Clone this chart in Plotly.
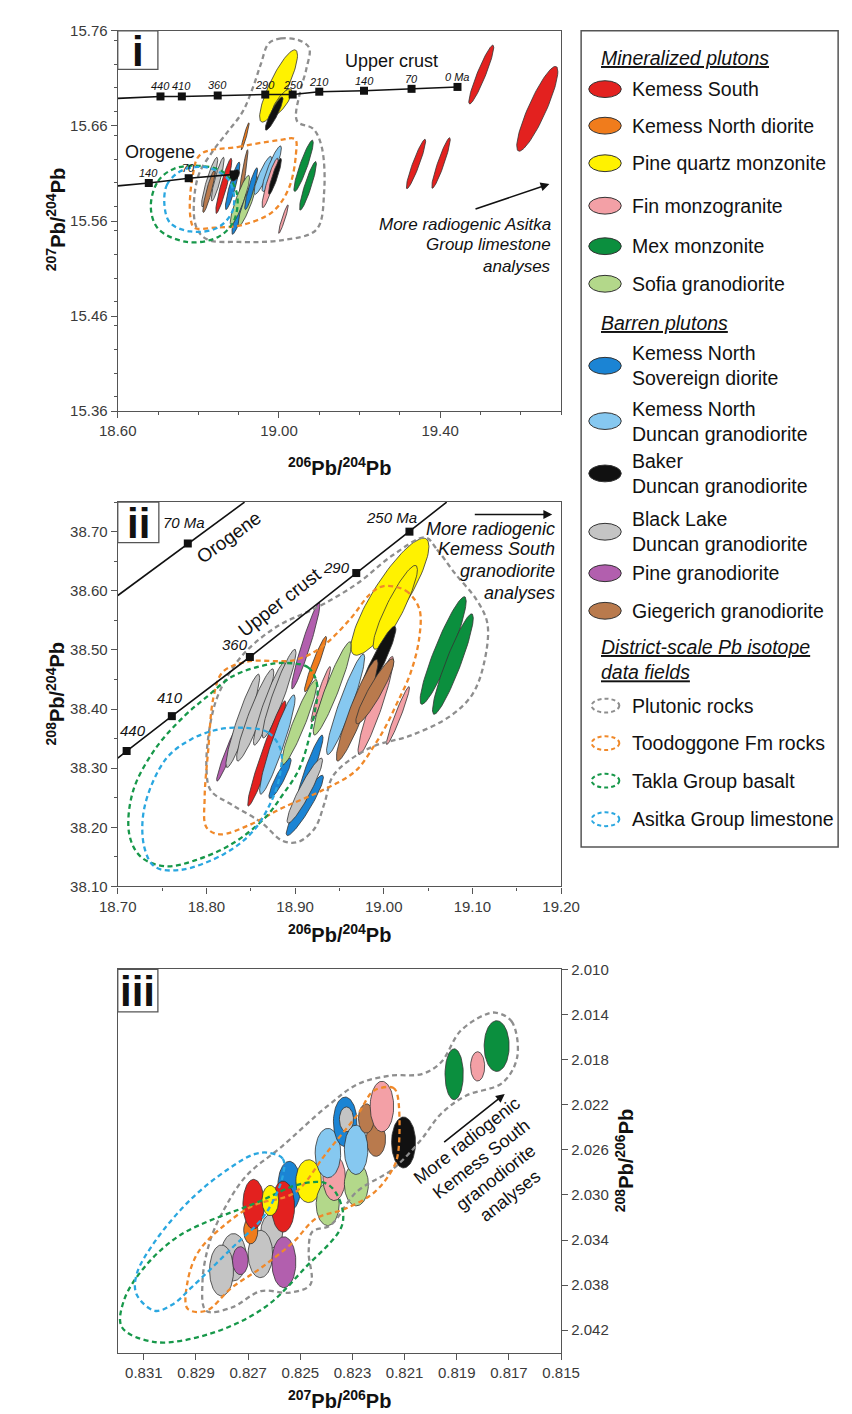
import numpy as np
import plotly.graph_objects as go

W, H = 852, 1414
FONT = "Liberation Sans, Arial, Helvetica, sans-serif"

# ---------------- legend groups & colours ----------------
COLORS = {
    "KS": "#e3211f", "KND": "#f07c1c", "PQM": "#fff200", "FIN": "#f3a0a6",
    "MEX": "#0b8f3e", "SOF": "#b3d88a", "KNS": "#1b84d4", "KNDG": "#86c8f0",
    "BAK": "#111111", "BLK": "#c4c4c4", "PGD": "#b25fae", "GIE": "#b97a4d",
}
FIELD_COLORS = {"PLUT": "#8e8e8e", "TOOD": "#f0892a", "TAKLA": "#17984a", "ASIT": "#2aa7e0"}

# ---------------- panel i : 207Pb/204Pb vs 206Pb/204Pb ----------------
I_GRP = ["PQM", "PQM", "BAK", "KND", "MEX", "MEX", "FIN", "KS", "KS", "KS", "KS", "BLK", "GIE",
         "BLK", "KS", "KNS", "BAK", "GIE", "KNS", "SOF", "SOF", "KNS", "KNDG", "KNDG", "FIN", "BAK"]
I_CX = [18.999, 19.007, 18.988, 18.916, 19.061, 19.072, 19.011, 19.502, 19.641, 19.340, 19.402, 18.828, 18.826,
        18.848, 18.863, 18.885, 18.891, 18.911, 18.901, 18.903, 18.923, 18.931, 18.960, 18.982, 18.978, 18.990]
I_CY = [15.702, 15.685, 15.673, 15.649, 15.618, 15.597, 15.562, 15.714, 15.678, 15.620, 15.621, 15.601, 15.591,
        15.604, 15.597, 15.597, 15.608, 15.606, 15.567, 15.582, 15.581, 15.594, 15.608, 15.615, 15.600, 15.607]
I_SX = [0.047, 0.025, 0.022, 0.010, 0.024, 0.021, 0.012, 0.031, 0.051, 0.024, 0.023, 0.020, 0.015,
        0.016, 0.020, 0.018, 0.011, 0.012, 0.018, 0.024, 0.024, 0.016, 0.022, 0.024, 0.020, 0.016]
I_SY = [0.038, 0.014, 0.0175, 0.0143, 0.027, 0.0256, 0.015, 0.031, 0.0446, 0.026, 0.0266, 0.026, 0.022,
        0.023, 0.029, 0.025, 0.006, 0.029, 0.021, 0.026, 0.026, 0.022, 0.020, 0.024, 0.026, 0.019]
I_RHO = [0.85, 0.80, 0.90, 0.94, 0.91, 0.91, 0.94, 0.93, 0.88, 0.93, 0.93, 0.90, 0.90,
         0.90, 0.92, 0.90, 0.50, 0.93, 0.90, 0.90, 0.90, 0.90, 0.88, 0.90, 0.90, 0.90]

I_PLUT_X = [18.975, 19.005, 19.050, 19.075, 19.068, 19.052, 19.045, 19.085, 19.106, 19.112, 19.093, 19.010, 18.900,
            18.820, 18.793, 18.798, 18.835, 18.875, 18.910, 18.935, 18.955]
I_PLUT_Y = [15.747, 15.752, 15.750, 15.742, 15.720, 15.695, 15.665, 15.657, 15.638, 15.590, 15.551, 15.540, 15.538,
            15.541, 15.556, 15.605, 15.633, 15.655, 15.675, 15.700, 15.725]
I_TOOD_X = [18.805, 18.900, 19.000, 19.040, 19.042, 19.025, 18.985, 18.910, 18.840, 18.790, 18.780, 18.785]
I_TOOD_Y = [15.630, 15.638, 15.645, 15.646, 15.630, 15.595, 15.570, 15.556, 15.553, 15.553, 15.565, 15.605]
I_TAKLA_X = [18.682, 18.700, 18.740, 18.800, 18.860, 18.895, 18.888, 18.848, 18.771, 18.700]
I_TAKLA_Y = [15.575, 15.602, 15.615, 15.618, 15.612, 15.590, 15.560, 15.543, 15.538, 15.552]
I_ASIT_X = [18.716, 18.722, 18.754, 18.800, 18.845, 18.880, 18.886, 18.848, 18.780, 18.730]
I_ASIT_Y = [15.576, 15.598, 15.612, 15.617, 15.613, 15.600, 15.572, 15.553, 15.549, 15.558]

UC_I_AGE = ["440", "410", "360", "290", "250", "210", "140", "70", "0 Ma"]
UC_I_X = [18.706, 18.759, 18.848, 18.966, 19.034, 19.100, 19.211, 19.329, 19.443]
UC_I_Y = [15.691, 15.691, 15.692, 15.693, 15.693, 15.696, 15.697, 15.699, 15.701]
UC_I_X0, UC_I_Y0 = 18.60, 15.689
OR_I_AGE = ["140", "70", ""]
OR_I_X = [18.677, 18.776, 18.888]
OR_I_Y = [15.600, 15.605, 15.609]
OR_I_X0, OR_I_Y0 = 18.60, 15.597

# ---------------- panel ii : 208Pb/204Pb vs 206Pb/204Pb ----------------
II_GRP = ["PGD", "PGD", "BLK", "BLK", "BLK", "BLK", "KND", "KS", "KNDG", "KNS", "FIN", "SOF", "KNS", "KNS",
          "BLK", "SOF", "KNDG", "PQM", "PQM", "BAK", "FIN", "GIE", "GIE", "FIN", "MEX", "MEX"]
II_CX = [18.912, 18.825, 18.841, 18.855, 18.871, 18.882, 18.923, 18.868, 18.880, 18.883, 18.929, 18.905, 18.917,
         18.911, 18.911, 18.942, 18.957, 19.007, 19.013, 18.992, 18.991, 18.970, 18.990, 19.016, 19.067, 19.078]
II_CY = [38.507, 38.328, 38.380, 38.390, 38.409, 38.426, 38.476, 38.325, 38.340, 38.283, 38.425, 38.378, 38.300,
         38.237, 38.262, 38.435, 38.408, 38.590, 38.572, 38.476, 38.406, 38.398, 38.430, 38.389, 38.499, 38.476]
II_SX = [0.016, 0.0135, 0.019, 0.021, 0.018, 0.019, 0.0125, 0.0215, 0.020, 0.0125, 0.011, 0.020, 0.0145,
         0.021, 0.020, 0.0215, 0.0215, 0.044, 0.025, 0.0217, 0.020, 0.0235, 0.0215, 0.013, 0.026, 0.023]
II_SY = [0.073, 0.050, 0.079, 0.078, 0.070, 0.075, 0.047, 0.089, 0.084, 0.034, 0.047, 0.072, 0.056,
         0.051, 0.055, 0.079, 0.085, 0.099, 0.071, 0.064, 0.083, 0.086, 0.055, 0.049, 0.091, 0.085]
II_RHO = [0.95, 0.96, 0.93, 0.93, 0.93, 0.93, 0.95, 0.96, 0.93, 0.90, 0.95, 0.93, 0.93,
          0.93, 0.93, 0.93, 0.93, 0.86, 0.90, 0.93, 0.93, 0.93, 0.92, 0.96, 0.92, 0.92]

II_PLUT_X = [19.047, 19.060, 19.080, 19.105, 19.117, 19.113, 19.100, 19.075, 19.030, 18.990, 18.960, 18.942, 18.933,
             18.922, 18.903, 18.886, 18.862, 18.829, 18.805, 18.800, 18.805, 18.815, 18.840, 18.880, 18.925, 18.970, 19.010]
II_PLUT_Y = [38.690, 38.670, 38.630, 38.584, 38.544, 38.477, 38.425, 38.388, 38.355, 38.338, 38.312, 38.285, 38.240,
             38.198, 38.175, 38.177, 38.208, 38.238, 38.262, 38.300, 38.380, 38.430, 38.490, 38.540, 38.572, 38.612, 38.660]
II_TOOD_X = [19.000, 19.025, 19.040, 19.040, 19.030, 19.015, 19.002, 18.990, 18.968, 18.930, 18.886, 18.850, 18.815,
             18.800, 18.798, 18.802, 18.808, 18.818, 18.845, 18.900, 18.930, 18.962, 18.985]
II_TOOD_Y = [38.608, 38.600, 38.570, 38.520, 38.460, 38.410, 38.370, 38.340, 38.295, 38.262, 38.233, 38.205, 38.188,
             38.200, 38.250, 38.330, 38.420, 38.462, 38.480, 38.483, 38.505, 38.552, 38.595]
II_TAKLA_X = [18.886, 18.915, 18.925, 18.920, 18.905, 18.886, 18.866, 18.829, 18.787, 18.754, 18.726, 18.713,
              18.717, 18.742, 18.775, 18.800, 18.829, 18.860]
II_TAKLA_Y = [38.478, 38.470, 38.440, 38.380, 38.300, 38.255, 38.216, 38.172, 38.144, 38.134, 38.150, 38.188,
              38.260, 38.332, 38.388, 38.420, 38.455, 38.472]
II_ASIT_X = [18.845, 18.870, 18.884, 18.883, 18.875, 18.853, 18.820, 18.771, 18.742, 18.730, 18.730, 18.754,
             18.783, 18.815]
II_ASIT_Y = [38.368, 38.360, 38.330, 38.290, 38.250, 38.194, 38.155, 38.128, 38.133, 38.166, 38.233, 38.315,
             38.349, 38.366]

UC_II_AGE = ["440", "410", "360", "290", "250 Ma"]
UC_II_X = [18.710, 18.761, 18.849, 18.969, 19.029]
UC_II_Y = [38.329, 38.388, 38.488, 38.630, 38.700]
UC_II_END_X = [18.700, 19.071]
UC_II_END_Y = [38.317, 38.750]
OR_II_AGE = ["70 Ma"]
OR_II_X = [18.779]
OR_II_Y = [38.680]
OR_II_END_X = [18.700, 18.843]
OR_II_END_Y = [38.592, 38.750]

# ---------------- panel iii : 208Pb/206Pb vs 207Pb/206Pb ----------------
III_GRP = ["BLK", "BLK", "BLK", "PGD", "BLK", "PGD", "KND", "KS", "KNS", "KS", "PQM", "PQM", "SOF", "FIN",
           "KNDG", "SOF", "GIE", "KNS", "BLK", "KNDG", "GIE", "FIN", "BAK", "MEX", "FIN", "MEX"]
III_CX = [0.82609, 0.82756, 0.82802, 0.82730, 0.82653, 0.82563, 0.82690, 0.82679, 0.82542, 0.82566, 0.82615,
          0.82468, 0.82395, 0.82370, 0.82394, 0.82285, 0.82210, 0.82328, 0.82323, 0.82286, 0.82247, 0.82187,
          0.82104, 0.81910, 0.81820, 0.81747]
III_CY = [2.03320, 2.03553, 2.03670, 2.03583, 2.03524, 2.03597, 2.03317, 2.03082, 2.02922, 2.03104, 2.03050,
          2.02878, 2.03082, 2.02850, 2.02629, 2.02907, 2.02505, 2.02352, 2.02330, 2.02600, 2.02322, 2.02216,
          2.02535, 2.01930, 2.01860, 2.01680]
III_SX = [0.00042, 0.00049, 0.00046, 0.00030, 0.00047, 0.00046, 0.00027, 0.00041, 0.00044, 0.00044, 0.00032,
          0.00049, 0.00044, 0.00043, 0.00049, 0.00046, 0.00037, 0.00045, 0.00027, 0.00045, 0.00030, 0.00045,
          0.00046, 0.00035, 0.00027, 0.00048]
III_SY = [0.00150, 0.00210, 0.00226, 0.00124, 0.00210, 0.00226, 0.00117, 0.00220, 0.00220, 0.00226, 0.00134,
          0.00190, 0.00190, 0.00200, 0.00219, 0.00190, 0.00153, 0.00220, 0.00110, 0.00219, 0.00130, 0.00224,
          0.00226, 0.00226, 0.00130, 0.00225]

III_PLUT_X = [0.81753, 0.81690, 0.81668, 0.81725, 0.81865, 0.81960, 0.82040, 0.82146, 0.82286, 0.82384, 0.82454,
              0.82468, 0.82461, 0.82539, 0.82651, 0.82763, 0.82861, 0.82875, 0.82847, 0.82791, 0.82707, 0.82571,
              0.82400, 0.82278, 0.82156, 0.82034, 0.81961, 0.81887, 0.81800]
III_PLUT_Y = [2.01383, 2.01460, 2.01774, 2.02006, 2.02120, 2.02280, 2.02520, 2.02772, 2.02977, 2.03269, 2.03327,
              2.03502, 2.03794, 2.03867, 2.03853, 2.03999, 2.04028, 2.03765, 2.03415, 2.03123, 2.02831, 2.02571,
              2.02220, 2.02016, 2.01943, 2.01928, 2.01826, 2.01549, 2.01410]
III_TOOD_X = [0.82217, 0.82144, 0.82128, 0.82125, 0.82146, 0.82216, 0.82328, 0.82440, 0.82525, 0.82651, 0.82763,
              0.82861, 0.82932, 0.82932, 0.82890, 0.82791, 0.82679, 0.82522, 0.82400, 0.82278]
III_TOOD_Y = [2.02074, 2.02050, 2.02110, 2.02629, 2.02772, 2.02977, 2.03123, 2.03210, 2.03415, 2.03648, 2.03823,
              2.04028, 2.04010, 2.03765, 2.03502, 2.03269, 2.03093, 2.02980, 2.02629, 2.02279]
III_TAKLA_X = [0.82400, 0.82350, 0.82340, 0.82482, 0.82637, 0.82847, 0.83058, 0.83184, 0.83177, 0.83100, 0.82960,
               0.82663, 0.82500]
III_TAKLA_Y = [2.02900, 2.03040, 2.03269, 2.03648, 2.03999, 2.04232, 2.04305, 2.04174, 2.03940, 2.03648, 2.03356,
               2.03064, 2.02904]
III_ASIT_X = [0.82623, 0.82567, 0.82567, 0.82637, 0.82763, 0.82918, 0.82988, 0.83058, 0.83128, 0.83128, 0.83058,
              0.82918, 0.82777, 0.82679]
III_ASIT_Y = [2.02626, 2.02680, 2.02831, 2.03181, 2.03473, 2.03823, 2.03969, 2.04028, 2.03882, 2.03707, 2.03415,
              2.03035, 2.02772, 2.02641]

# ---------------- legend ----------------
LEG_KEYS = ["KS", "KND", "PQM", "FIN", "MEX", "SOF", "KNS", "KNDG", "BAK", "BLK", "PGD", "GIE"]
LEG_LABELS = ["Kemess South", "Kemess North diorite", "Pine quartz monzonite", "Fin monzogranite",
              "Mex monzonite", "Sofia granodiorite", "Kemess North<br>Sovereign diorite",
              "Kemess North<br>Duncan granodiorite", "Baker<br>Duncan granodiorite",
              "Black Lake<br>Duncan granodiorite", "Pine granodiorite", "Giegerich granodiorite"]
LEG_HEADS = ["<u>Mineralized plutons</u>", "<u>Barren plutons</u>",
             "<u>District-scale Pb isotope</u><br><u>data fields</u>"]
FIELD_KEYS = ["PLUT", "TOOD", "TAKLA", "ASIT"]
FIELD_LABELS = ["Plutonic rocks", "Toodoggone Fm rocks", "Takla Group basalt", "Asitka Group limestone"]

# ---------------- layout helpers (pixel geometry) ----------------
def PX(x):
    return x / W


def PY(y):
    return 1 - y / H


L_PX, R_PX = 95, 559
PANELS = {"i": (14, 399), "ii": (491, 880), "iii": (964, 1352)}

fig = go.Figure()


def ellipse(cx, cy, sx, sy, rho=0.0, n=90):
    t = np.linspace(0, 2 * np.pi, n)
    x = cx + sx * np.cos(t)
    y = cy + sy * (rho * np.cos(t) + np.sqrt(1 - rho ** 2) * np.sin(t))
    return x, y


def add_ellipses(grp, cx, cy, sx, sy, rho, xa, ya):
    for k in range(len(grp)):
        x, y = ellipse(cx[k], cy[k], sx[k], sy[k], rho[k] if rho is not None else 0.0)
        fig.add_trace(go.Scatter(x=x, y=y, mode="lines", fill="toself", fillcolor=COLORS[grp[k]],
                                 line=dict(color="#333333", width=0.8), xaxis=xa, yaxis=ya,
                                 hoverinfo="skip", showlegend=False))


def add_field(xs, ys, key, xa, ya):
    fig.add_trace(go.Scatter(x=list(xs) + [xs[0]], y=list(ys) + [ys[0]], mode="lines",
                             line=dict(color=FIELD_COLORS[key], width=2.3, dash="5px,3.5px",
                                       shape="spline", smoothing=1.0),
                             xaxis=xa, yaxis=ya, hoverinfo="skip", showlegend=False))


def add_curve(x0, y0, xs, ys, xa, ya, msize, x1=None, y1=None):
    lx = [x0] + list(xs) + ([x1] if x1 is not None else [])
    ly = [y0] + list(ys) + ([y1] if y1 is not None else [])
    fig.add_trace(go.Scatter(x=lx, y=ly, mode="lines", line=dict(color="#111", width=1.6),
                             xaxis=xa, yaxis=ya, hoverinfo="skip", showlegend=False))
    fig.add_trace(go.Scatter(x=xs, y=ys, mode="markers",
                             marker=dict(symbol="square", size=msize, color="#111"),
                             xaxis=xa, yaxis=ya, hoverinfo="skip", showlegend=False, cliponaxis=False))


# panel i
add_ellipses(I_GRP, I_CX, I_CY, I_SX, I_SY, I_RHO, "x", "y")
add_field(I_PLUT_X, I_PLUT_Y, "PLUT", "x", "y")
add_field(I_TOOD_X, I_TOOD_Y, "TOOD", "x", "y")
add_field(I_TAKLA_X, I_TAKLA_Y, "TAKLA", "x", "y")
add_field(I_ASIT_X, I_ASIT_Y, "ASIT", "x", "y")
add_curve(UC_I_X0, UC_I_Y0, UC_I_X, UC_I_Y, "x", "y", 8)
add_curve(OR_I_X0, OR_I_Y0, OR_I_X, OR_I_Y, "x", "y", 8)

# panel ii
add_ellipses(II_GRP, II_CX, II_CY, II_SX, II_SY, II_RHO, "x2", "y2")
add_field(II_PLUT_X, II_PLUT_Y, "PLUT", "x2", "y2")
add_field(II_TOOD_X, II_TOOD_Y, "TOOD", "x2", "y2")
add_field(II_TAKLA_X, II_TAKLA_Y, "TAKLA", "x2", "y2")
add_field(II_ASIT_X, II_ASIT_Y, "ASIT", "x2", "y2")
add_curve(UC_II_END_X[0], UC_II_END_Y[0], UC_II_X, UC_II_Y, "x2", "y2", 8, UC_II_END_X[1], UC_II_END_Y[1])
add_curve(OR_II_END_X[0], OR_II_END_Y[0], OR_II_X, OR_II_Y, "x2", "y2", 8, OR_II_END_X[1], OR_II_END_Y[1])

# panel iii
add_ellipses(III_GRP, III_CX, III_CY, III_SX, III_SY, None, "x3", "y3")
add_field(III_PLUT_X, III_PLUT_Y, "PLUT", "x3", "y3")
add_field(III_TOOD_X, III_TOOD_Y, "TOOD", "x3", "y3")
add_field(III_TAKLA_X, III_TAKLA_Y, "TAKLA", "x3", "y3")
add_field(III_ASIT_X, III_ASIT_Y, "ASIT", "x3", "y3")

# ---------------- axes ----------------
TICKFONT = dict(family=FONT, size=15, color="#3a3a3a")


def axis(domain, rng, **kw):
    d = dict(domain=domain, range=rng, showline=True, mirror=True, linecolor="#555", linewidth=1.3,
             ticks="outside", ticklen=6, tickwidth=1.2, tickcolor="#555", showgrid=False, zeroline=False,
             tickfont=TICKFONT)
    d.update(kw)
    return d


XD = [PX(L_PX), PX(R_PX)]


def ydom(p):
    top, bot = PANELS[p]
    return [PY(bot), PY(top)]


def minor(dt):
    return dict(dtick=dt, ticklen=3, tickwidth=1, tickcolor="#555", ticks="outside", showgrid=False)


fig.update_layout(
    width=W, height=H, margin=dict(l=0, r=0, t=0, b=0),
    paper_bgcolor="white", plot_bgcolor="white", showlegend=False,
    font=dict(family=FONT, color="#111"),
    xaxis=axis(XD, [18.60, 19.70], anchor="y", tick0=18.6, dtick=0.4, tickformat=".2f", minor=minor(0.1)),
    yaxis=axis(ydom("i"), [15.36, 15.76], anchor="x", tick0=15.36, dtick=0.1, tickformat=".2f",
               minor=minor(0.025)),
    xaxis2=axis(XD, [18.70, 19.20], anchor="y2", tick0=18.7, dtick=0.1, tickformat=".2f", minor=minor(0.05)),
    yaxis2=axis(ydom("ii"), [38.10, 38.75], anchor="x2", tick0=38.1, dtick=0.1, tickformat=".2f",
                minor=minor(0.05)),
    xaxis3=axis(XD, [0.832, 0.815], anchor="y3", tick0=0.815, dtick=0.002, tickformat=".3f"),
    yaxis3=axis(ydom("iii"), [2.044, 2.010], anchor="x3", side="right", tick0=2.010, dtick=0.004,
                tickformat=".3f"),
)

ann = []
shapes = []


def text(x, y, t, size, xref="paper", yref="paper", **kw):
    d = dict(x=x, y=y, text=t, xref=xref, yref=yref, showarrow=False, xanchor="center", yanchor="middle",
             font=dict(family=FONT, size=size, color="#111"))
    d.update(kw)
    ann.append(d)


# axis titles
T206_204 = "<b><sup>206</sup>Pb/<sup>204</sup>Pb</b>"
text(PX(327), PY(455), T206_204, 20)
text(PX(30), PY(205), "<b><sup>207</sup>Pb/<sup>204</sup>Pb</b>", 20, textangle=-90)
text(PX(327), PY(928), T206_204, 20)
text(PX(30), PY(685), "<b><sup>208</sup>Pb/<sup>204</sup>Pb</b>", 20, textangle=-90)
text(PX(327), PY(1414), "<b><sup>207</sup>Pb/<sup>206</sup>Pb</b>", 20, yanchor="bottom")
text(PX(625), PY(1158), "<b><sup>208</sup>Pb/<sup>206</sup>Pb</b>", 20, textangle=-90)

# panel tags
TAG_BOX = {"i": (95, 14, 137, 53), "ii": (95, 491, 138, 532), "iii": (95, 964, 137, 1007)}
for tag, (x0, y0, x1, y1) in TAG_BOX.items():
    shapes.append(dict(type="rect", xref="paper", yref="paper", x0=PX(x0), x1=PX(x1), y0=PY(y1), y1=PY(y0),
                       line=dict(color="#555", width=1.3), fillcolor="white", layer="above"))
    text(PX((x0 + x1) / 2), PY((y0 + y1) / 2 + 1), "<b>%s</b>" % tag, 42)

# panel i annotations
for a, x, y in zip(UC_I_AGE, UC_I_X, UC_I_Y):
    text(x, y, "<i>%s</i>" % a, 11, "x", "y", yshift=10)
for a, x, y in zip(OR_I_AGE, OR_I_X, OR_I_Y):
    if a:
        text(x, y, "<i>%s</i>" % a, 11, "x", "y", yshift=10)
text(19.28, 15.728, "Upper crust", 18, "x", "y")
text(18.705, 15.633, "Orogene", 18, "x", "y")
ann.append(dict(x=19.671, y=15.599, ax=19.484, ay=15.572, xref="x", yref="y", axref="x", ayref="y",
                showarrow=True, arrowhead=2, arrowsize=1.1, arrowwidth=1.6, arrowcolor="#111", text=""))
for t, y in zip(["More radiogenic Asitka", "Group limestone", "analyses"], [15.556, 15.535, 15.512]):
    text(19.679, y, "<i>%s</i>" % t, 17, "x", "y", xanchor="right")

# panel ii annotations
UC_II_SHIFT = [(6, 21), (-2, 19), (-15, 13), (-20, 6), (-18, 14)]
for a, x, y, (dx, dy) in zip(UC_II_AGE, UC_II_X, UC_II_Y, UC_II_SHIFT):
    text(x, y, "<i>%s</i>" % a, 15, "x2", "y2", xshift=dx, yshift=dy)
for a, x, y in zip(OR_II_AGE, OR_II_X, OR_II_Y):
    text(x, y, "<i>%s</i>" % a, 15, "x2", "y2", xshift=-4, yshift=21)
text(18.825, 38.69, "Orogene", 19, "x2", "y2", textangle=-36)
text(18.882, 38.581, "Upper crust", 19, "x2", "y2", textangle=-38)
ann.append(dict(x=19.190, y=38.729, ax=19.101, ay=38.729, xref="x2", yref="y2", axref="x2", ayref="y2",
                showarrow=True, arrowhead=2, arrowsize=1.1, arrowwidth=1.6, arrowcolor="#111", text=""))
for t, y in zip(["More radiogenic", "Kemess South", "granodiorite", "analyses"],
                [38.705, 38.670, 38.633, 38.596]):
    text(19.195, y, "<i>%s</i>" % t, 18, "x2", "y2", xanchor="right")

# panel iii annotations
ann.append(dict(x=0.81716, y=2.02104, ax=0.81954, ay=2.02542, xref="x3", yref="y3", axref="x3", ayref="y3",
                showarrow=True, arrowhead=2, arrowsize=1.1, arrowwidth=1.6, arrowcolor="#111", text=""))
text(0.81777, 2.02764, "More radiogenic<br>Kemess South<br>granodiorite<br>analyses", 18, "x3", "y3",
     textangle=-38)

# ---------------- legend box ----------------
shapes.append(dict(type="rect", xref="paper", yref="paper", x0=PX(580), x1=PX(849), y0=PY(840), y1=PY(14),
                   line=dict(color="#555", width=1.5), fillcolor="white", layer="below"))
LEG_FS = 19.5
LEG_HEAD_Y = [42, 310, 650]
for t, y in zip(LEG_HEADS, LEG_HEAD_Y):
    text(PX(600), PY(y), "<i>%s</i>" % t, LEG_FS, xanchor="left", align="left", borderpad=0)
LEG_SYM_Y = [73, 110, 148, 191, 232, 270, 353, 409, 462, 521, 563, 601]
for key, t, sy in zip(LEG_KEYS, LEG_LABELS, LEG_SYM_Y):
    shapes.append(dict(type="circle", xref="paper", yref="paper", x0=PX(588), x1=PX(622),
                       y0=PY(sy + 8.5), y1=PY(sy - 8.5), fillcolor=COLORS[key],
                       line=dict(color="#333", width=1)))
    text(PX(632), PY(sy), t, LEG_FS, xanchor="left", align="left", borderpad=0)
FIELD_LEG_Y = [697, 735, 773, 812]
for key, t, y in zip(FIELD_KEYS, FIELD_LABELS, FIELD_LEG_Y):
    shapes.append(dict(type="circle", xref="paper", yref="paper", x0=PX(591), x1=PX(620),
                       y0=PY(y + 7), y1=PY(y - 7), line=dict(color=FIELD_COLORS[key], width=2, dash="4px,3px")))
    text(PX(632), PY(y), t, LEG_FS, xanchor="left", borderpad=0)

fig.update_layout(annotations=ann, shapes=shapes)
fig.write_html("out.html")
